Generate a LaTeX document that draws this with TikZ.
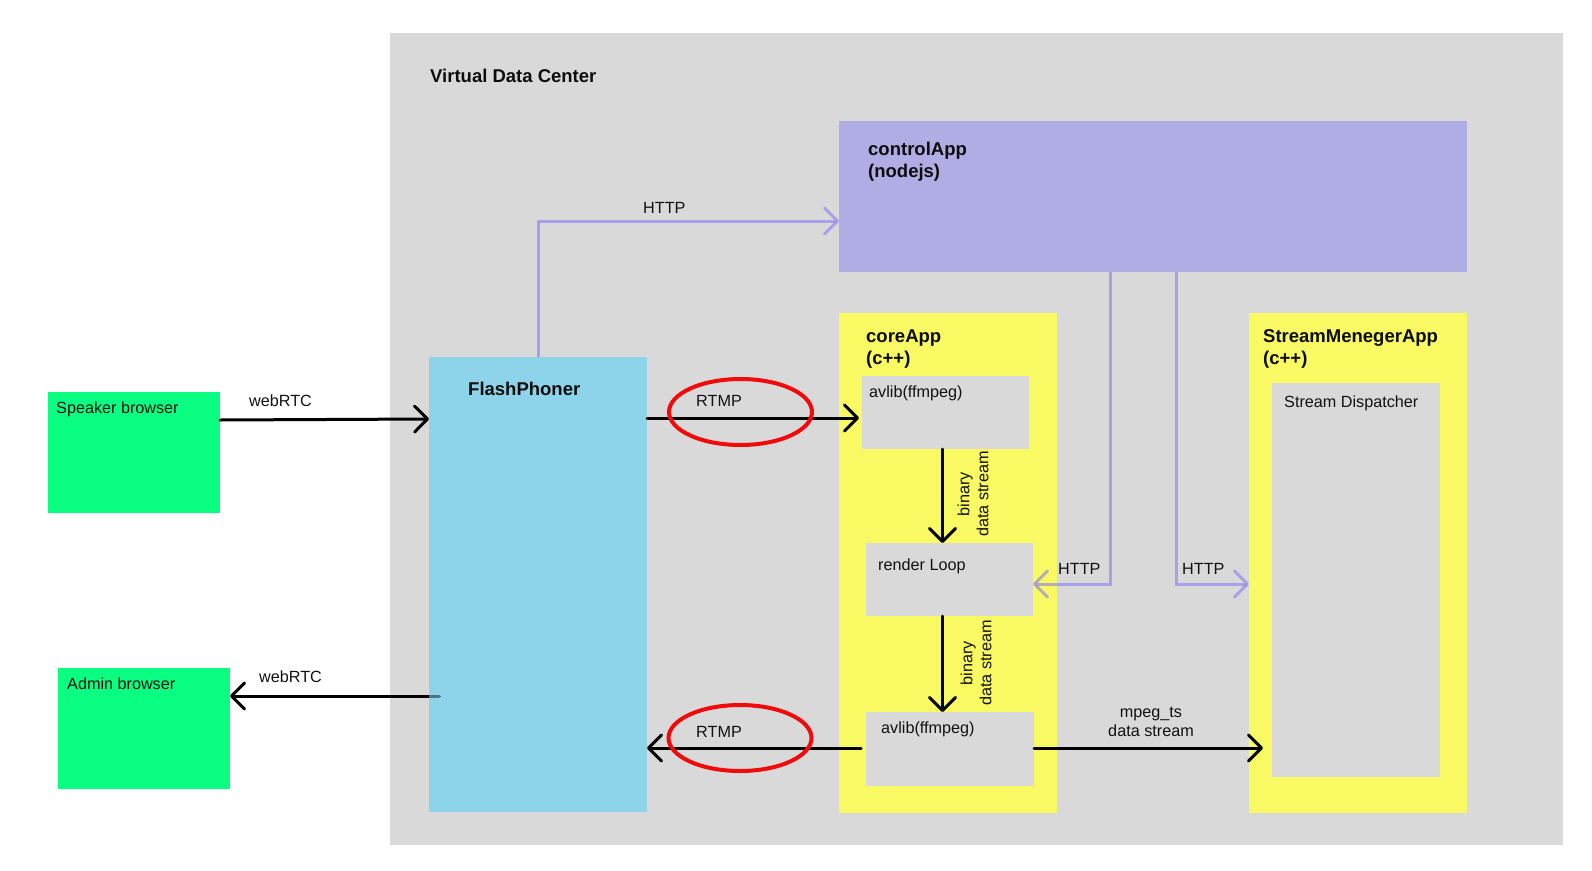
\documentclass[tikz,border=0pt]{standalone}
\usepackage{fontspec}
\setmainfont{Liberation Sans}
\usetikzlibrary{arrows.meta,shapes.geometric}
\definecolor{vdcgray}{HTML}{D9D9D9}
\definecolor{browsergreen}{HTML}{0AFF82}
\definecolor{fpblue}{HTML}{8DD3E9}
\definecolor{ctllav}{HTML}{B0ADE4}
\definecolor{appyellow}{HTML}{F8F963}
\definecolor{httplav}{HTML}{8A7FF0}
\definecolor{ringred}{HTML}{F00A0A}
\begin{document}
\begin{tikzpicture}[x=1pt,y=-1pt,
  blk/.style={draw=none, inner sep=0pt, outer sep=0pt, anchor=north west},
  lbl/.style={font=\fontsize{16.2}{19}\selectfont, inner sep=0pt, anchor=base west, text=black!93},
  ttl/.style={font=\bfseries\fontsize{18.5}{22}\selectfont, inner sep=0pt, anchor=base west, align=left, text=black!95},
  rot/.style={font=\fontsize{16.2}{19}\selectfont, inner sep=0pt, rotate=90, align=center, text=black!93},
  flow/.style={draw=black, line width=3pt, line cap=round, -{Straight Barb[length=13pt,width=26pt,round]}},
  httpflow/.style={draw=httplav, draw opacity=0.62, line width=3pt, -{Straight Barb[length=13pt,width=26pt,round]}},
  ring/.style={ellipse, draw=ringred, line width=4pt, inner sep=0pt, minimum width=143pt, minimum height=66pt}
]
\useasboundingbox (0,0) rectangle (1592,870);
\fill[white] (0,0) rectangle (1592,870);

% containers and boxes
\node[blk, fill=vdcgray, minimum width=1173pt, minimum height=812pt] (vdc) at (390,33) {};
\node[blk, fill=browsergreen, minimum width=172pt, minimum height=121pt] (speaker) at (48,392) {};
\node[blk, fill=browsergreen, minimum width=172pt, minimum height=121pt] (admin) at (58,668) {};
\node[blk, fill=fpblue, minimum width=218pt, minimum height=455pt] (FP) at (429,357) {};
\node[blk, fill=ctllav, minimum width=628pt, minimum height=151pt] (ctl) at (839,121) {};
\node[blk, fill=appyellow, minimum width=218pt, minimum height=500pt] (core) at (839,313) {};
\node[blk, fill=appyellow, minimum width=218pt, minimum height=500pt] (sma) at (1249,313) {};
\node[blk, fill=vdcgray, minimum width=168pt, minimum height=394pt] (sd) at (1272,383) {};
\node[blk, fill=vdcgray, minimum width=167pt, minimum height=73pt] (av1) at (862,376) {};
\node[blk, fill=vdcgray, minimum width=167pt, minimum height=73pt] (ren) at (866,543) {};
\node[blk, fill=vdcgray, minimum width=168pt, minimum height=74pt] (av2) at (866,712) {};

% connectors
\draw[flow] ([yshift=-28pt]speaker.north east) -- ([yshift=-62pt]FP.north west);
\draw[flow] ([xshift=10pt,yshift=-339pt]FP.north west) -- ([yshift=-28pt]admin.north east);
\fill[fpblue, opacity=0.55] ([yshift=-336pt]FP.north west) rectangle ([xshift=11pt,yshift=-342pt]FP.north west);
\draw[flow] ([yshift=-61pt]FP.north east) -- ([xshift=-3pt,yshift=-42pt]av1.north west);
\draw[flow] ([xshift=-3pt]av1.south) -- ([xshift=-3pt]av1.south |- ren.north);
\draw[flow] ([xshift=-7pt]ren.south) -- ([xshift=-7pt]ren.south |- av2.north);
\draw[flow] ([xshift=-5pt,yshift=-36pt]av2.north west) -- ([yshift=-36pt]av2.north west -| FP.east);
\draw[flow] ([yshift=-36pt]av2.north east) -- ([xshift=-9pt,yshift=-36pt]av2.north east -| sd.west);
\draw[httpflow] (FP.north) |- ([yshift=-100pt]ctl.north west);
\draw[httpflow] ([xshift=271pt]ctl.south west) |- ([yshift=-41pt]ren.north east);
\draw[httpflow] ([xshift=337pt]ctl.south west) |- ([yshift=-271pt]sma.north west);

% highlight rings
\node[ring] (ring1) at (740.5,412) {};
\node[ring] (ring2) at (740,738) {};

% texts
\node[ttl] (vdcT) at (430,82) {Virtual Data Center};
\node[ttl] (ctlT) at (868,177) {controlApp\\(nodejs)};
\node[ttl] (fpT) at (468,395) {FlashPhoner};
\node[ttl] (coreT) at (866,364) {coreApp\\(c++)};
\node[ttl] (smaT) at (1263,364) {StreamMenegerApp\\(c++)};
\node[lbl] (sdT) at (1284,407) {Stream Dispatcher};
\node[lbl] (av1T) at (869,397) {avlib(ffmpeg)};
\node[lbl] (renT) at (878,570) {render Loop};
\node[lbl] (av2T) at (881,733) {avlib(ffmpeg)};
\node[lbl] (spkT) at (56,413) {Speaker browser};
\node[lbl] (admT) at (67,689) {Admin browser};
\node[lbl] (web1) at (249,406) {webRTC};
\node[lbl] (web2) at (259,682) {webRTC};
\node[lbl] (http1) at (643,213) {HTTP};
\node[lbl] (http2) at (1058,574) {HTTP};
\node[lbl] (http3) at (1182,574) {HTTP};
\node[lbl] (rtmp1) at (696,406) {RTMP};
\node[lbl] (rtmp2) at (696,737) {RTMP};
\node[lbl, anchor=base, align=center] (mpegT) at (1151,736) {mpeg\_ts\\data stream};
\node[rot] (bin1) at (973,494) {binary\\data stream};
\node[rot] (bin2) at (976,663) {binary\\data stream};
\end{tikzpicture}
\end{document}
